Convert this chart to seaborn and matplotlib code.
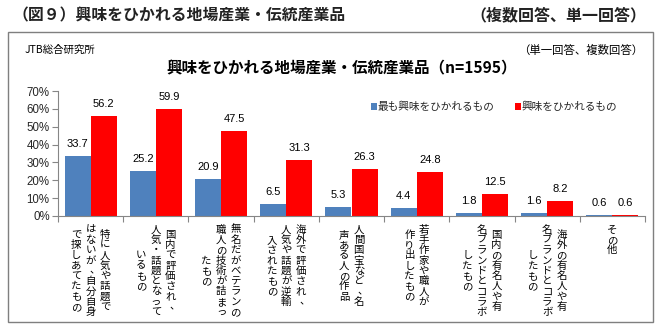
import matplotlib
matplotlib.use('Agg')
import matplotlib.pyplot as plt
import seaborn as sns
import pandas as pd
import numpy as np
from matplotlib.transforms import blended_transform_factory
from matplotlib.patches import Rectangle, Patch

# ---------------- data ----------------
categories = [
    "特に人気や話題ではないが、自分自身で探しあてたもの",
    "国内で評価され、人気・話題となっているもの",
    "無名だがベテランの職人の技術が詰まったもの",
    "海外で評価され、人気や話題が逆輸入されたもの",
    "人間国宝など、名声ある人の作品",
    "若手作家や職人が作り出したもの",
    "国内の有名人や有名ブランドとコラボしたもの",
    "海外の有名人や有名ブランドとコラボしたもの",
    "その他",
]
label_columns = [
    ["特に人気や話題で", "はないが、自分自身", "で探しあてたもの"],
    ["国内で評価され、", "人気・話題となって", "いるもの"],
    ["無名だがベテランの", "職人の技術が詰まっ", "たもの"],
    ["海外で評価され、", "人気や話題が逆輸", "入されたもの"],
    ["人間国宝など、名", "声ある人の作品"],
    ["若手作家や職人が", "作り出したもの"],
    ["国内の有名人や有", "名ブランドとコラボ", "したもの"],
    ["海外の有名人や有", "名ブランドとコラボ", "したもの"],
    ["その他"],
]
series_names = ["最も興味をひかれるもの", "興味をひかれるもの"]
most_interested = [33.7, 25.2, 20.9, 6.5, 5.3, 4.4, 1.8, 1.6, 0.6]
interested = [56.2, 59.9, 47.5, 31.3, 26.3, 24.8, 12.5, 8.2, 0.6]
y_ticks = [0, 10, 20, 30, 40, 50, 60, 70]
y_tick_labels = [f"{t}%" for t in y_ticks]

outer_title = "（図９）興味をひかれる地場産業・伝統産業品"
outer_note = "（複数回答、単一回答）"
source = "JTB総合研究所"
inner_note = "（単一回答、複数回答）"
chart_title = "興味をひかれる地場産業・伝統産業品（n=1595）"

# ---------------- style ----------------
BLUE = "#4F81BD"
RED = "#FF0000"
GRAY = "#868686"
CJK = ['Noto Sans CJK JP', 'DejaVu Sans']
LAT = ['Liberation Sans', 'DejaVu Sans']

sns.set_theme(style='white')
plt.rcParams['font.family'] = CJK

W, H = 665, 329
fig = plt.figure(figsize=(W / 100, H / 100), dpi=100)
fig.patch.set_facecolor('white')

def fx(px):
    return px / W

def fy(py):
    return 1 - py / H

ax_left, ax_right, ax_top, ax_bottom = 58, 645, 91, 216
ax = fig.add_axes([fx(ax_left), fy(ax_bottom), fx(ax_right) - fx(ax_left), fy(ax_top) - fy(ax_bottom)])

df = pd.DataFrame({
    'category': categories * 2,
    'series': [series_names[0]] * len(categories) + [series_names[1]] * len(categories),
    'value': most_interested + interested,
})
sns.barplot(data=df, x='category', y='value', hue='series', order=categories,
            hue_order=series_names, palette=[BLUE, RED], errorbar=None,
            width=0.8, saturation=1, linewidth=0, ax=ax)

# value labels
for cont in ax.containers:
    vals = [b.get_height() for b in cont]
    ax.bar_label(cont, labels=[f"{v:.1f}" for v in vals], padding=5,
                 fontsize=8, family=LAT, color='#000000')

ax.set_xlim(-0.5, len(categories) - 0.5)
ax.set_ylim(0, 70)
ax.set_yticks(y_ticks)
ax.set_yticklabels(y_tick_labels, fontsize=8.3, family=LAT)
ax.set_xticks(range(len(categories)))
ax.set_xticklabels([''] * len(categories))
ax.set_xticks(np.arange(-0.5, len(categories), 1), minor=True)
ax.tick_params(axis='x', which='major', length=0)
ax.tick_params(axis='x', which='minor', length=4, width=0.8, color=GRAY, direction='out', bottom=True)
ax.tick_params(axis='y', length=4, width=0.8, color=GRAY, direction='out', left=True, pad=2)
ax.set_xlabel('')
ax.set_ylabel('')
for s in ['top', 'right']:
    ax.spines[s].set_visible(False)
for s in ['left', 'bottom']:
    ax.spines[s].set_color(GRAY)
    ax.spines[s].set_linewidth(0.8)

# legend
leg = ax.get_legend()
if leg is not None:
    leg.remove()
handles = [Patch(facecolor=BLUE, edgecolor='none'), Patch(facecolor=RED, edgecolor='none')]
fig.legend(handles, series_names, loc='center', bbox_to_anchor=(fx(494), fy(107)),
           ncol=2, frameon=False, handlelength=0.55, handleheight=0.55,
           handletextpad=0.1, columnspacing=1.9, fontsize=7.7, borderaxespad=0,
           borderpad=0)

# vertical category labels
trans = blended_transform_factory(ax.transData, fig.dpi_scale_trans)
slot_px = (ax_right - ax_left) / len(categories)
col_sp = 14.5 / slot_px
top_px = 224.5
pitch = 10.3
for i, cols in enumerate(label_columns):
    n = len(cols)
    maxlen = max(len(c) for c in cols)
    block_h = maxlen * pitch
    for j, col in enumerate(cols):
        x = i + ((n - 1) / 2 - j) * col_sp
        ytop = top_px + (block_h - len(col) * pitch) / 2
        for k, ch in enumerate(col):
            ypx = ytop + (k + 0.5) * pitch
            dx = 0
            if ch in "、，":
                dx = 4.0 / slot_px
                ypx -= 1.5
            ax.text(x + dx, (H - ypx) / 100, ch, transform=trans, ha='center', va='center',
                    fontsize=7.5, color='#000000', clip_on=False)

# titles and frame
fig.text(fx(13), fy(15), outer_title, ha='left', va='center', fontsize=11.4, fontweight='bold', color='#222222')
fig.text(fx(646), fy(15), outer_note, ha='right', va='center', fontsize=11.5, fontweight='bold', color='#222222')
fig.text(fx(25), fy(50), source, ha='left', va='center', fontsize=7.5, color='#000000')
fig.text(fx(643), fy(50), inner_note, ha='right', va='center', fontsize=8.2, color='#000000')
fig.text(fx(342), fy(68), chart_title, ha='center', va='center', fontsize=11.2, fontweight='bold', color='#000000')

frame = Rectangle((fx(8), fy(322)), fx(653) - fx(8), fy(32) - fy(322), transform=fig.transFigure,
                  fill=False, edgecolor='#7F7F7F', linewidth=1)
fig.add_artist(frame)

fig.savefig('out.png', dpi=100)
